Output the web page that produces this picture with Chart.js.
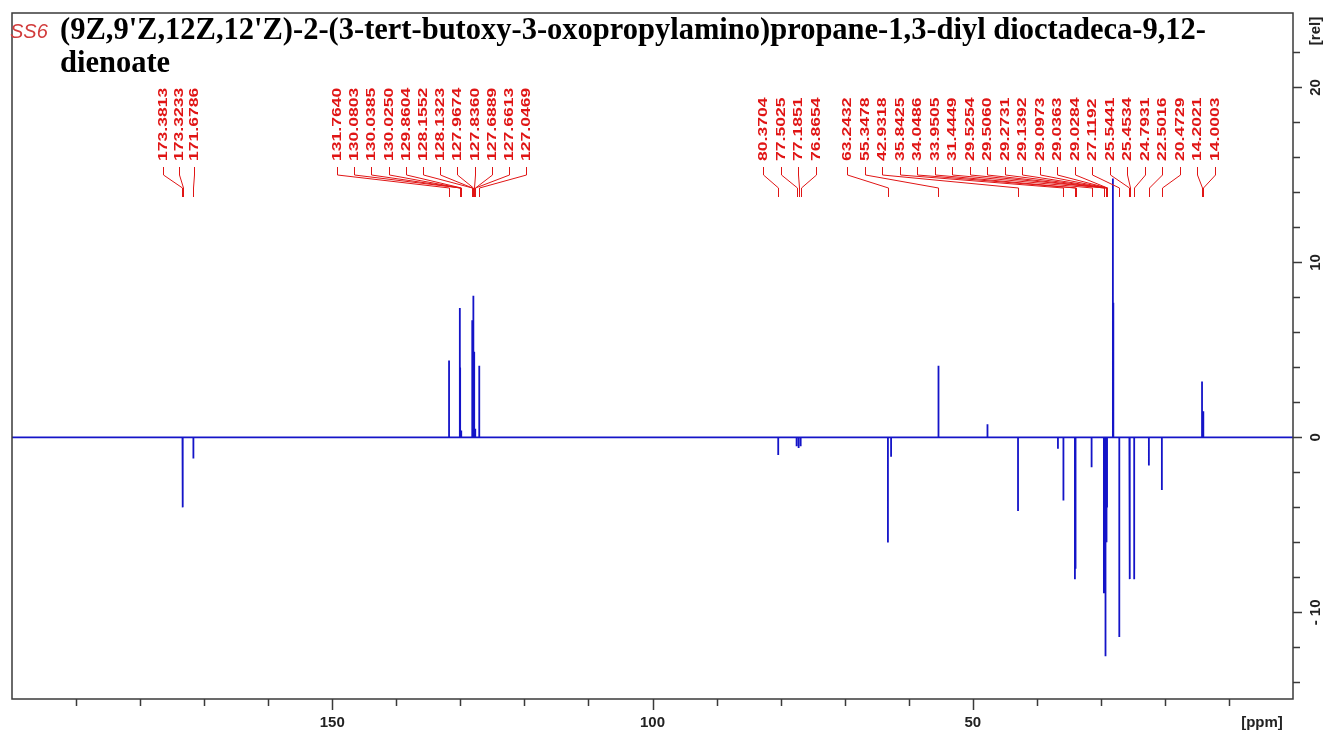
<!DOCTYPE html>
<html>
<head>
<meta charset="utf-8">
<script src="https://cdn.jsdelivr.net/npm/chart.js@4.4.1/dist/chart.umd.min.js"></script>
<style>
  body { margin: 0; background: #fff; }
  #wrap { position: relative; width: 1332px; height: 738px; }
  #ss { position: absolute; left: 10px; top: 20px; font: italic 20px "Liberation Sans", Arial, sans-serif; color: #d23c3c; }
  #title { position: absolute; left: 60px; top: 13px; font: bold 30.5px "Liberation Serif", "Times New Roman", serif; line-height: 33px; color: #000; white-space: nowrap; }
</style>
</head>
<body>
<div id="wrap">
  <canvas id="spec" width="1332" height="738"></canvas>
  <div id="ss">SS6</div>
  <div id="title">(9Z,9'Z,12Z,12'Z)-2-(3-tert-butoxy-3-oxopropylamino)propane-1,3-diyl dioctadeca-9,12-<br>dienoate</div>
</div>
<script>
// picked peaks (ppm) and their heights [rel]
const pickedPpm = [173.3813, 173.3233, 171.6786,
  131.7640, 130.0803, 130.0385, 130.0250, 129.8604, 128.1552, 128.1323, 127.9674, 127.8360, 127.6889, 127.6613, 127.0469,
  80.3704, 77.5025, 77.1851, 76.8654,
  63.2432, 55.3478, 42.9318, 35.8425, 34.0486, 33.9505, 31.4449, 29.5254, 29.5060, 29.2731, 29.1392, 29.0973,
  29.0363, 29.0284, 27.1192, 25.5441, 25.4534, 24.7931, 22.5016, 20.4729, 14.2021, 14.0003];
const pickedInt = [-4.0, -0.6, -1.2,
  4.4, 7.4, 4.0, 1.8, 0.4, 6.7, 6.4, 8.1, 4.9, 0.5, 0.3, 4.1,
  -1.0, -0.5, -0.6, -0.5,
  -6.0, 4.1, -4.2, -3.6, -8.1, -7.5, -1.7, -8.9, -7.4, -12.5, -6.0, -5.0,
  -4.0, -3.0, -11.4, -8.1, -4.3, -8.1, -1.6, -3.0, 3.2, 1.5];
// peaks that were not picked
const otherPpm = [62.75, 47.7, 36.7, 28.12, 28.05];
const otherInt = [-1.1, 0.75, -0.65, 14.8, 7.7];

// label groups: first label x, spacing, how many labels
const groupStart = [163, 337, 763, 847];
const groupGap = [15.6, 17.2, 17.7, 17.5];
const groupSize = [3, 12, 4, 22];

const xMajor = [150, 100, 50];
const yMajor = [20, 10, 0, -10];

// build the spectrum trace from the peak list
let peaks = [];
pickedPpm.forEach((p, i) => peaks.push([p, pickedInt[i]]));
otherPpm.forEach((p, i) => peaks.push([p, otherInt[i]]));
peaks.sort((a, b) => b[0] - a[0]);
const trace = [{x: 200, y: 0}];
peaks.forEach(pk => {
  trace.push({x: pk[0], y: 0});
  trace.push({x: pk[0], y: pk[1]});
  trace.push({x: pk[0], y: 0});
});
trace.push({x: 0, y: 0});

const decor = {
  id: 'decor',
  afterDraw(chart) {
    const ctx = chart.ctx;
    const a = chart.chartArea;
    const xs = chart.scales.x, ys = chart.scales.y;
    ctx.save();

    // frame
    ctx.strokeStyle = '#3a3a3a';
    ctx.lineWidth = 1.5;
    ctx.strokeRect(a.left, a.top, a.right - a.left, a.bottom - a.top);

    // x ticks
    ctx.beginPath();
    for (let v = 10; v < 200; v += 10) {
      const px = Math.round(xs.getPixelForValue(v)) + 0.5;
      const len = xMajor.includes(v) ? 11 : 7;
      ctx.moveTo(px, a.bottom);
      ctx.lineTo(px, a.bottom + len);
    }
    // y ticks
    for (let v = -14; v <= 22; v += 2) {
      const py = Math.round(ys.getPixelForValue(v)) + 0.5;
      const len = yMajor.includes(v) ? 9 : 7;
      ctx.moveTo(a.right, py);
      ctx.lineTo(a.right + len, py);
    }
    ctx.stroke();

    ctx.fillStyle = '#222';
    ctx.font = 'bold 15px "Liberation Sans", Arial, sans-serif';
    ctx.textAlign = 'center';
    ctx.textBaseline = 'middle';
    xMajor.forEach(v => ctx.fillText(String(v), xs.getPixelForValue(v), 723));
    ctx.fillText('[ppm]', 1262, 723);

    yMajor.forEach(v => {
      ctx.save();
      ctx.translate(1316, ys.getPixelForValue(v));
      ctx.rotate(-Math.PI / 2);
      ctx.fillText(v < 0 ? '- ' + Math.abs(v) : String(v), 0, 0);
      ctx.restore();
    });
    ctx.save();
    ctx.translate(1316, 31);
    ctx.rotate(-Math.PI / 2);
    ctx.fillText('[rel]', 0, 0);
    ctx.restore();

    // peak labels with leader lines
    ctx.strokeStyle = '#e01515';
    ctx.fillStyle = '#e01515';
    ctx.lineWidth = 1;
    ctx.font = 'bold 13.5px "Liberation Sans", Arial, sans-serif';
    ctx.textAlign = 'left';
    let k = 0;
    groupStart.forEach((gx, g) => {
      for (let j = 0; j < groupSize[g]; j++, k++) {
        const lx = Math.round(gx + j * groupGap[g]) + 0.5;
        const px = Math.round(xs.getPixelForValue(pickedPpm[k])) + 0.5;
        ctx.beginPath();
        ctx.moveTo(lx, 167);
        ctx.lineTo(lx, 175);
        ctx.lineTo(px, 188);
        ctx.lineTo(px, 197);
        ctx.stroke();
        ctx.save();
        ctx.translate(lx, 161);
        ctx.rotate(-Math.PI / 2);
        ctx.scale(1.3, 1);
        ctx.fillText(pickedPpm[k].toFixed(4), 0, 0);
        ctx.restore();
      }
    });
    ctx.restore();
  }
};

new Chart(document.getElementById('spec'), {
  type: 'line',
  data: {
    datasets: [{
      data: trace,
      borderColor: '#1414c8',
      borderWidth: 1.8,
      pointRadius: 0,
      tension: 0,
      fill: false
    }]
  },
  options: {
    responsive: false,
    animation: false,
    events: [],
    layout: { padding: { left: 12, right: 39, top: 13, bottom: 39 } },
    plugins: { legend: { display: false }, tooltip: { enabled: false } },
    scales: {
      x: { type: 'linear', reverse: true, min: 0, max: 200, display: false },
      y: { type: 'linear', min: -14.95, max: 24.25, display: false }
    }
  },
  plugins: [decor]
});
</script>
</body>
</html>
